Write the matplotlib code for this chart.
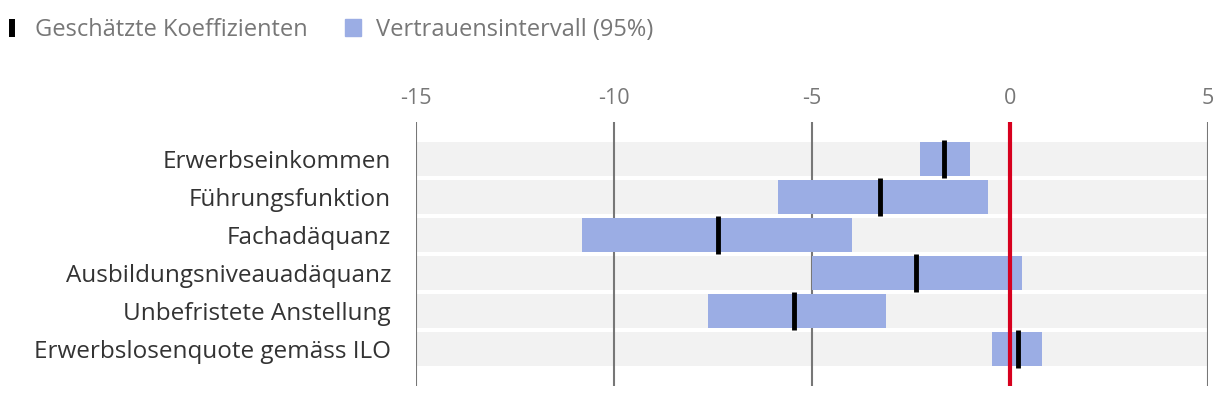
import matplotlib.pyplot as plt
from matplotlib.lines import Line2D
from matplotlib.patches import Patch

plt.rcParams['font.family'] = ['Open Sans', 'DejaVu Sans']

labels = ["Erwerbseinkommen", "Führungsfunktion", "Fachadäquanz",
          "Ausbildungsniveauadäquanz", "Unbefristete Anstellung",
          "Erwerbslosenquote gemäss ILO"]
ci_low = [-2.27, -5.86, -10.81, -5.0, -7.63, -0.45]
ci_high = [-1.01, -0.56, -3.99, 0.30, -3.13, 0.81]
estimate = [-1.67, -3.28, -7.37, -2.37, -5.45, 0.20]
xticks = [-15, -10, -5, 0, 5]

blue = "#9BADE4"
grey = "#777777"

fig = plt.figure(figsize=(12.2, 3.98), dpi=100)
ax = fig.add_axes([416/1220, 1 - 386/398, (1208 - 416)/1220, (386 - 122)/398])

ypos = list(range(len(labels)))
h = 34/38

# grey background bands
ax.barh(ypos, [20]*len(labels), left=-15, height=h, color="#F2F2F2", zorder=0)
for x in xticks:
    ax.axvline(x, color=grey, lw=1.5, zorder=1)
# confidence intervals
widths = [hi - lo for lo, hi in zip(ci_low, ci_high)]
ax.barh(ypos, widths, left=ci_low, height=h, color=blue, zorder=2)
# point estimates
for y, e in zip(ypos, estimate):
    ax.plot([e, e], [y - 0.5, y + 0.5], color="black", lw=3.5,
            solid_capstyle="butt", zorder=3)
ax.axvline(0, color="#D7001E", lw=3, zorder=4)

ax.set_xlim(-15, 5)
ax.set_ylim(5.974, -0.974)
ax.set_xticks(xticks)
ax.set_xticklabels([str(x) for x in xticks], color=grey, fontsize=15.5)
ax.get_xticklabels()[-1].set_horizontalalignment("right")
ax.xaxis.tick_top()
ax.tick_params(axis="x", length=0, pad=9)
ax.set_yticks(ypos)
ax.set_yticklabels(labels, fontsize=17.5, color="#333333")
ax.tick_params(axis="y", length=0, pad=18)
for s in ax.spines.values():
    s.set_visible(False)

handles = [Line2D([], [], color="black", marker="|", linestyle="None",
                  markersize=13, markeredgewidth=4.3),
           Patch(color=blue)]
fig.legend(handles, ["Geschätzte Koeffizienten", "Vertrauensintervall (95%)"],
           loc="upper left", bbox_to_anchor=(4/1220, 1 - 18/398), ncol=2,
           frameon=False, borderpad=0, borderaxespad=0,
           fontsize=17, labelcolor=grey, handlelength=0.68, handleheight=0.7,
           handletextpad=0.65, columnspacing=1.57)

fig.savefig("out.png", dpi=100)
